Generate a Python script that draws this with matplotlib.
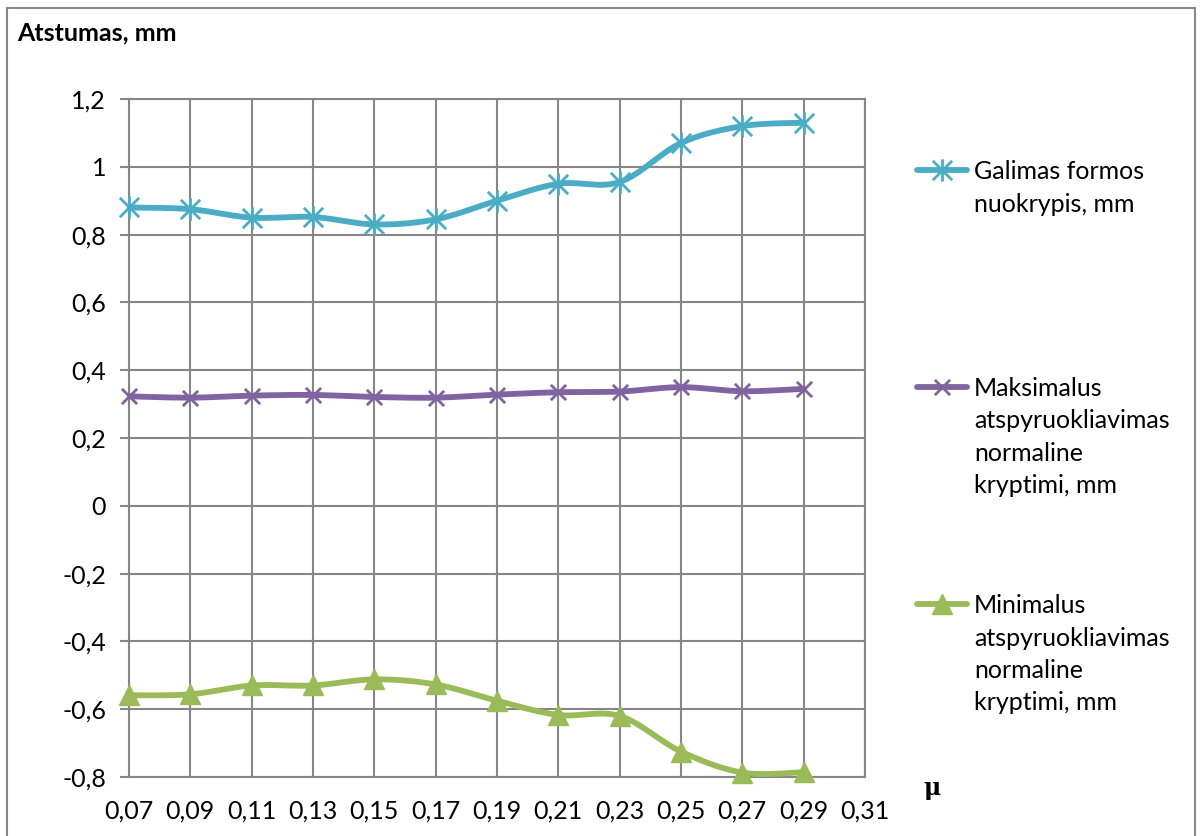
import numpy as np
import matplotlib
matplotlib.use("Agg")
import matplotlib.pyplot as plt
from matplotlib.path import Path
from matplotlib.lines import Line2D
from matplotlib.patches import Rectangle

plt.rcParams['font.family'] = ['Lato', 'DejaVu Sans']

mu = [0.07, 0.09, 0.11, 0.13, 0.15, 0.17, 0.19, 0.21, 0.23, 0.25, 0.27, 0.29]
galimas = [0.88, 0.875, 0.85, 0.852, 0.83, 0.845, 0.90, 0.95, 0.955, 1.07, 1.12, 1.13]
maksimalus = [0.323, 0.319, 0.325, 0.327, 0.321, 0.319, 0.328, 0.335, 0.337, 0.35, 0.338, 0.345]
minimalus = [-0.559, -0.556, -0.53, -0.53, -0.512, -0.527, -0.575, -0.617, -0.62, -0.725, -0.787, -0.786]

x_ticks = [0.07, 0.09, 0.11, 0.13, 0.15, 0.17, 0.19, 0.21, 0.23, 0.25, 0.27, 0.29, 0.31]
y_ticks = [-0.8, -0.6, -0.4, -0.2, 0.0, 0.2, 0.4, 0.6, 0.8, 1.0, 1.2]

labels = ["Galimas formos\nnuokrypis, mm",
          "Maksimalus\natspyruokliavimas\nnormaline\nkryptimi, mm",
          "Minimalus\natspyruokliavimas\nnormaline\nkryptimi, mm"]

c_cyan = "#4BACC6"
c_purple = "#8064A2"
c_green = "#9BBB59"
grid_c = "#868686"

# marker shapes
star_path = Path([(0, -1), (0, 1), (-0.87, -0.87), (0.87, 0.87), (-0.87, 0.87), (0.87, -0.87)],
                 [Path.MOVETO, Path.LINETO, Path.MOVETO, Path.LINETO, Path.MOVETO, Path.LINETO])
x_path = Path([(-1, -1), (1, 1), (-1, 1), (1, -1)],
              [Path.MOVETO, Path.LINETO, Path.MOVETO, Path.LINETO])


def smooth(xs, ys, n=30):
    """Cardinal (Catmull-Rom) Bezier smoothing through the given points."""
    xs = np.asarray(xs, float)
    ys = np.asarray(ys, float)
    px = np.concatenate([[xs[0]], xs, [xs[-1]]])
    py = np.concatenate([[ys[0]], ys, [ys[-1]]])
    ox, oy = [], []
    t = np.linspace(0, 1, n)
    for i in range(1, len(px) - 2):
        p0 = np.array([px[i], py[i]])
        p3 = np.array([px[i + 1], py[i + 1]])
        p1 = p0 + (np.array([px[i + 1], py[i + 1]]) - np.array([px[i - 1], py[i - 1]])) / 6
        p2 = p3 - (np.array([px[i + 2], py[i + 2]]) - np.array([px[i], py[i]])) / 6
        b = ((1 - t) ** 3)[:, None] * p0 + (3 * (1 - t) ** 2 * t)[:, None] * p1 \
            + (3 * (1 - t) * t ** 2)[:, None] * p2 + (t ** 3)[:, None] * p3
        ox.extend(b[:, 0])
        oy.extend(b[:, 1])
    return np.array(ox), np.array(oy)


fig = plt.figure(figsize=(12, 8.36), dpi=100)
fig.add_artist(Rectangle((7 / 1200, -0.05), 1188 / 1200, 1.05 - 8 / 836,
                         transform=fig.transFigure, fill=False,
                         edgecolor="#888888", linewidth=1.5))

ax = fig.add_axes([129 / 1200, 1 - 777 / 836, 736 / 1200, 678 / 836])
ax.set_xlim(0.07, 0.31)
ax.set_ylim(-0.8, 1.2)
ax.set_xticks(x_ticks)
ax.set_yticks(y_ticks)
ax.set_xticklabels([f"{v:.2f}".replace(".", ",") for v in x_ticks])
ax.set_yticklabels([("0" if abs(v) < 1e-9 else (f"{v:g}".replace(".", ","))) for v in y_ticks])
ax.grid(True, color=grid_c, linewidth=1.5)
ax.set_axisbelow(True)
for s in ax.spines.values():
    s.set_color(grid_c)
    s.set_linewidth(1.5)
ax.tick_params(axis='y', length=6.5, width=1.5, color=grid_c, labelsize=18, pad=10)
ax.tick_params(axis='x', length=0, labelsize=18, pad=16)

series = [
    (galimas, c_cyan, star_path, 16, 2.0, "none"),
    (maksimalus, c_purple, x_path, 11, 2.0, "none"),
    (minimalus, c_green, "^", 15, 1.0, c_green),
]
for ys, col, mk, ms, mew, mfc in series:
    sx, sy = smooth(mu, ys)
    ax.plot(sx, sy, color=col, linewidth=4.2, solid_capstyle='round', zorder=3)
    ax.plot(mu, ys, linestyle='none', marker=mk, markersize=ms, markeredgewidth=mew,
            markeredgecolor=col, markerfacecolor=mfc, color=col, zorder=4, clip_on=False)

# title and axis label
fig.text(17 / 1200, 1 - 33 / 836, "Atstumas, mm", fontsize=18, fontweight='bold',
         va='center', ha='left')
fig.text(932 / 1200, 1 - 788 / 836, "μ", fontsize=17, fontweight='bold',
         family=['DejaVu Serif'], va='center', ha='center')

# legend
leg_y = [170, 387, 604]
for (ys, col, mk, ms, mew, mfc), lab, yy in zip(series, labels, leg_y):
    yf = 1 - yy / 836
    fig.add_artist(Line2D([917 / 1200, 967 / 1200], [yf, yf], transform=fig.transFigure,
                          color=col, linewidth=4.2, solid_capstyle='round'))
    fig.add_artist(Line2D([942 / 1200], [yf], transform=fig.transFigure, linestyle='none',
                          marker=mk, markersize=ms, markeredgewidth=mew,
                          markeredgecolor=col, markerfacecolor=mfc))
    fig.text(974 / 1200, 1 - (yy - 10) / 836, lab, fontsize=18, va='top', ha='left',
             linespacing=1.5)

fig.savefig("out.png", dpi=100)
